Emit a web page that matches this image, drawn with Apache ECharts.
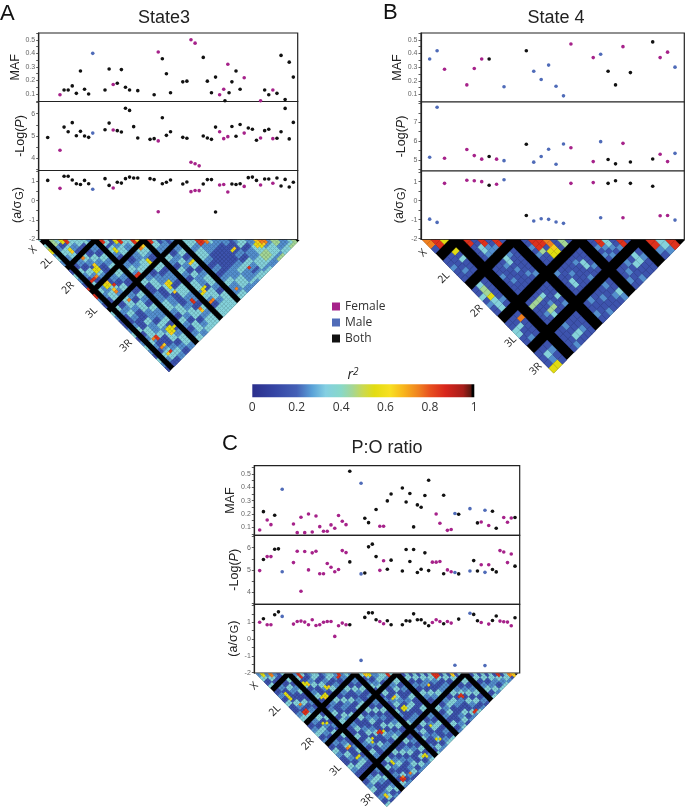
<!DOCTYPE html>
<html><head><meta charset="utf-8">
<style>html,body{margin:0;padding:0;background:#fff}#c{width:685px;height:808px}</style>
<script src="https://cdn.jsdelivr.net/npm/echarts@6/dist/echarts.min.js"></script>
</head><body><div id="c"></div>
<script>
// ---------- Panel A : State3 ----------
const slotsA=[0,3,4,5,6,7,8,9,10,11,14,15,16,17,18,19,20,21,22,25,26,27,28,29,30,33,34,35,36,37,38,39,40,41,42,43,44,45,46,47,48,49,50,51,52,53,54,55,56,57,58,59,60,43.3,44.3];
const sexA=['B','F','B','B','B','B','B','B','B','M','B','B','F','B','B','B','B','B','B','B','B','F','B','B','B','B','B','F','F','F','B','B','B','B','F','F','F','B','B','B','F','B','B','B','F','B','B','F','B','B','B','B','B','B','B'];
const mafA=[null,.095,.13,.13,.16,.105,.27,.135,.10,.40,.13,.285,.17,.18,.28,.15,.13,null,.125,null,.095,.41,.36,.25,.11,.19,.195,.50,.475,null,.37,.195,.11,.225,.095,.135,.32,.19,.27,.135,.22,null,null,null,.05,.13,.095,.13,.105,.385,.06,.335,.225,.05,.11];
const logPA=[4.93,4.36,5.40,5.19,5.60,5.01,5.21,5.00,4.94,5.13,5.28,5.58,5.27,5.24,5.18,6.25,6.15,5.42,4.91,4.85,4.88,4.78,5.82,5.03,5.19,4.94,4.90,3.82,3.75,3.66,5.00,4.91,4.85,5.40,5.19,4.88,4.97,5.43,4.99,5.52,5.13,5.36,5.30,4.81,4.91,5.24,5.30,4.88,4.90,5.19,6.24,4.87,5.61,null,null];
const effectA=[1.05,.64,1.26,1.26,1.07,.88,.84,1.05,.88,.59,1.14,.79,.66,.95,.91,1.14,1.22,1.17,1.17,1.14,1.09,-.57,.88,.95,1.07,.86,.97,.47,.53,.52,.86,1.09,1.09,-.58,.81,.84,.45,.86,.84,.88,.74,1.19,1.22,1.05,.81,1.12,1.12,.90,1.17,.76,1.10,.71,.95,null,null];
const snpCountsA=[1,9,9,6,28];
// r2 bands: [number of SNP rows, one code per partner SNP]
const r2BandsA=[
[2,"3 344223322 113322113 332211 3322 1111 2233 1122 3322 1133 2211"],
[2,"2 233113333 221133221 222333 1122 3322 1111 3333 2211 2233 3311"],
[2,"2 112233221 332211332 113322 3333 2211 1133 2222 3311 1122 3322"],
[2,"1 221133331 113322111 221133 2211 3333 2222 1133 2233 3311 2211"],
[2,"2 331122113 221133223 332211 1133 2211 3322 2233 1111 2233 3322"],
[2,"1 111111111 233133221 223322 3311 1122 2233 3322 1133 2211 2233"],
[2,"1 111111111 331122333 112233 2233 3311 1122 2233 3322 1133 3322"],
[2,"1 111111111 111111322 222333 1122 2233 3311 1111 2233 3311 2233"],
[3,"1 111111111 111111333 333211 3311 2222 1133 3322 2211 3322 3333"],
[2,"1 111111111 111111111 223322 3322 1133 2211 3333 2233 2211 3333"],
[2,"1 111111111 111111111 111122 1122 3322 1133 2222 1133 3322 3333"],
[2,"1 111111111 111111111 111111 2233 1122 3311 2233 3322 1133 3333"],
[3,"1 111111111 111111111 111111 3333 2233 3322 1122 1122 3322 2233"],
[3,"1 111111111 111111111 111111 1111 3322 2211 1111 1122 2233 3322"],
[3,"1 111111111 111111111 111111 1111 1133 2211 1111 1122 3322 2232"],
[3,"1 111111111 111111111 111111 1111 1111 3322 1111 2211 3322 1233"],
[3,"1 111111111 111111111 111111 1111 1111 1111 2233 1122 2233 3323"],
[3,"1 111111111 111111111 111111 1111 1111 1111 1133 2233 3344 4322"],
[3,"1 111111111 111111111 111111 1111 1111 1111 1111 1133 2233 3324"],
[3,"1 111111111 111111111 111111 1111 1111 1111 1111 1111 3344 2233"],
[5,"1 111111111 111111111 111111 1111 1111 1111 1111 1111 1133 3234"]];
const hotA=[[4,15,5],[5,15,5],[4,16,5],[5,16,5],[5,14,6],[2,17,8],[3,17,7],[3,20,5],[4,20,5],[3,19,5],[4,19,6],[4,23,7],[4,22,6],[10,24,8],[11,24,8],[17,19,7],[18,19,6],[11,15,5],[11,16,5],[3,7,5],[3,8,6],[4,10,7],[16,24,5],[16,23,5],[15,32,5],[16,32,5],[15,33,5],[16,31,5],[15,31,6],[20,41,5],[20,42,6],[19,42,5],[21,41,5],[17,41,8],[17,42,8],[17,45,7],[17,46,6],[20,46,7],[19,46,7],[15,35,6],[7,42,5],[7,43,5],[8,42,5],[8,43,5],[8,44,5],[7,44,6],[9,43,5],[3,41,8],[3,42,8],[2,41,7],[2,45,7],[3,45,6],[3,48,8],[2,48,6],[0,18,8],[0,19,8],[0,20,8],[1,17,8],[0,3,5],[0,4,5],[5,21,8],[5,26,7],[34,47,8],[41,43,5],[42,44,5],[42,43,6],[43,44,7],[41,44,6],[43,45,6],[42,45,5],[26,49,7],[34,39,5],[35,39,6],[23,32,6],[24,32,5],[4,5,8],[10,11,8],[14,15,8],[17,18,8],[19,20,8],[28,29,8],[29,30,8],[28,30,8],[30,31,7],[3,4,5],[13,14,5],[44,45,7]];

// ---------- Panel B : State 4 ----------
const slotsB=[0,1,2,5,6,7,8,9,10,13,14,15,16,17,18,19,22,23,24,25,26,27,30,31,32,33];
const sexB=['M','M','F','F','F','F','B','F','M','B','M','M','M','M','M','F','F','M','B','B','F','B','B','F','F','M'];
const mafB=[.36,.42,.285,.17,.29,.36,.36,null,.157,.42,.27,.21,.315,.16,.09,.47,.37,.395,.27,.17,.45,.26,.485,.37,.41,.30];
const logPB=[5.14,7.8,5.09,5.55,5.23,5.04,5.18,5.04,4.96,5.83,4.88,5.18,5.57,4.77,5.85,5.65,4.91,5.97,5.02,4.79,5.88,4.89,5.05,5.3,4.91,5.35];
const effectB=[-.97,-1.14,.91,1.07,1.05,1.0,.81,.86,1.10,-.78,-1.07,-.95,-.98,-1.12,-1.19,.91,.95,-.9,.91,1.05,-.9,.91,.76,-.79,-.78,-1.02];
const snpCountsB=[3,6,7,6,4];
const r2BandsB=[
[1,"111 112111 1111211 112111 1111"],
[1,"111 111121 1121111 111112 1121"],
[1,"111 211111 1111121 111111 1211"],
[1,"111 111111 1121111 121111 1111"],
[1,"111 111212 1111211 111121 1112"],
[1,"111 111122 1211111 111111 2111"],
[1,"111 111112 1112111 111211 1111"],
[1,"111 111111 2111121 111111 1121"],
[1,"111 111111 1111112 111112 1111"],
[1,"111 111111 1121211 211111 1121"],
[1,"111 111111 1112111 111121 2111"],
[1,"111 111111 1111121 112111 1112"],
[1,"111 111111 1111112 111111 1211"],
[1,"111 111111 1111111 121112 1111"],
[1,"111 111111 1111111 111211 2121"],
[1,"111 111111 1111111 111121 1112"],
[1,"111 111111 1111111 112121 1121"],
[1,"111 111111 1111111 111212 1211"],
[1,"111 111111 1111111 111121 2112"],
[1,"111 111111 1111111 111112 1211"],
[1,"111 111111 1111111 111111 2211"],
[1,"111 111111 1111111 111111 1211"],
[1,"111 111111 1111111 111111 1121"],
[1,"111 111111 1111111 111111 1112"],
[1,"111 111111 1111111 111111 1112"]];
const hotB=[[0,1,7],[1,2,8],[2,3,5],[2,5,3],[3,4,8],[5,6,8],[7,8,8],[4,7,3],[4,6,3],[1,9,3],[1,10,4],[1,11,4],[1,12,5],[1,13,3],[1,14,3],[1,15,3],[0,11,3],[6,9,3],[6,10,3],[11,12,8],[10,12,8],[12,13,7],[10,11,8],[11,14,5],[11,15,5],[12,15,5],[12,14,6],[10,13,4],[14,15,4],[3,17,4],[4,17,4],[5,17,4],[6,17,3],[2,17,7],[5,20,4],[5,21,3],[6,20,4],[8,19,3],[0,25,5],[1,25,5],[1,23,3],[0,18,3],[0,19,3],[1,18,3],[14,18,3],[14,19,3],[20,22,3],[20,23,3],[19,23,3],[18,19,3],[23,24,3],[22,23,8],[24,25,8],[17,18,8],[20,21,8],[10,20,3],[10,19,3],[15,24,3],[6,24,3],[5,24,3]];

// ---------- Panel C : P:O ratio ----------
const slotsC=[0,1,2,3,4,5,6,9,10,11,12,13,14,15,16,17,18,19,20,21,22,23,24,27,28,29,30,31,32,33,34,35,38,39,40,41,42,43,44,45,46,47,48,49,50,51,52,53,56,57,58,59,60,61,62,63,64,65,66,67,68];
const sexC=['F','B','F','F','B','B','M','F','F','F','F','F','F','F','F','F','F','F','F','F','F','F','B','M','B','B','B','B','F','F','B','B','B','B','B','B','B','B','B','B','F','F','F','B','F','F','M','B','M','B','B','F','M','F','B','B','F','F','F','F','B'];
const mafC=[.08,.2175,.155,.12,.19,null,.385,.125,.06,.175,.06,.20,.065,.185,.105,.07,.07,.118,.093,.188,.145,.12,.52,.43,.168,.135,null,.233,.108,.108,.298,.35,.395,.29,.353,.103,.268,.25,.338,.453,null,.20,.13,.34,.077,.083,.203,.198,.24,null,.133,.14,.228,.113,.22,.093,null,.173,.138,.17,.173];
const logPC=[4.97,5.47,5.6,5.6,5.93,5.95,4.92,5.33,5.84,4.04,5.83,5.0,5.77,5.84,4.83,4.83,5.29,5.12,4.92,5.02,5.87,5.78,5.36,4.82,4.86,6.04,6.16,5.6,4.98,5.41,5.03,5.44,4.95,5.92,5.38,5.92,4.88,5.03,5.77,4.97,5.35,5.35,5.38,4.83,5.0,4.92,4.88,4.82,4.95,5.42,4.95,5.23,4.89,5.23,5.02,4.91,5.87,5.81,5.33,5.72,5.17];
const effectC=[1.0,1.21,.85,.85,1.45,1.62,1.35,.89,1.05,1.07,1.01,.85,1.15,.81,.85,1.0,1.05,1.05,.16,.79,.95,.85,.85,-1.27,1.29,1.56,1.56,1.15,1.05,.91,1.09,.85,.85,1.09,1.07,1.5,1.15,1.15,.95,.79,.99,1.15,1.05,.91,1.05,.95,-1.56,1.19,1.54,1.47,1.09,.99,-1.58,.89,1.11,1.37,1.07,1.03,1.01,.79,1.27];
const snpCountsC=[7,16,9,16,13];
const r2BandsC=[
[2,"2233113 1122113311112233 112233112 1133221111332211 1122331122113"],
[2,"1122331 2211111133221133 221133221 2211113322113311 2233111122331"],
[2,"3311221 1133221111331122 331122113 1122331111223311 1133221133112"],
[1,"1111333 3311223311112211 113311221 3311112233112211 2211331122331"],
[2,"1111111 2233113311223311 122331133 1111331122113322 1133112211332"],
[2,"1111111 1133112233111133 221111332 2233111133221111 3311221133112"],
[2,"1111111 1111223311332211 331122113 1111223311113322 1122331111221"],
[2,"1111111 1111113311221133 113322111 3311112233111122 3311221122331"],
[2,"1111111 1111111122331122 221133113 1122331111332211 1133112233112"],
[2,"1111111 1111111111332211 331111223 3311221133112233 1122331111332"],
[2,"1111111 1111111111113322 113322111 1133112211331122 3311221133112"],
[2,"1111111 1111111111111133 221133112 2211331111223311 1122113311223"],
[1,"1111111 1111111111111111 331122331 1122111133221133 2211331122113"],
[2,"1111111 1111111111111111 113311223 3311223311111122 1133221111332"],
[2,"1111111 1111111111111111 111122331 1111332211331122 3311112233112"],
[2,"1111111 1111111111111111 111111332 2233111122331111 1122331111223"],
[2,"1111111 1111111111111111 111111113 3311221133111133 2211331122113"],
[2,"1111111 1111111111111111 111111111 1133112211332211 3311221133112"],
[2,"1111111 1111111111111111 111111111 1111331122113322 1122331111223"],
[2,"1111111 1111111111111111 111111111 1111113322111133 2233111122331"],
[2,"1111111 1111111111111111 111111111 1111111133221122 1133221133112"],
[2,"1111111 1111111111111111 111111111 1111111111331122 3311221111332"],
[2,"1111111 1111111111111111 111111111 1111111111113311 2233113322113"],
[2,"1111111 1111111111111111 111111111 1111111111111133 1122331133112"],
[2,"1111111 1111111111111111 111111111 1111111111111111 3311223311221"],
[2,"1111111 1111111111111111 111111111 1111111111111111 1133112233113"],
[2,"1111111 1111111111111111 111111111 1111111111111111 1111331122332"],
[2,"1111111 1111111111111111 111111111 1111111111111111 1111113322113"],
[2,"1111111 1111111111111111 111111111 1111111111111111 1111111133223"],
[2,"1111111 1111111111111111 111111111 1111111111111111 1111111111332"]];
const hotC=[[2,10,5],[2,11,5],[2,12,5],[2,13,5],[7,12,5],[7,13,5],[8,13,5],[8,14,6],[8,9,8],[8,10,8],[9,21,5],[9,22,6],[10,21,5],[10,22,5],[8,21,5],[12,20,5],[13,20,6],[12,19,5],[18,20,8],[19,20,8],[2,20,8],[3,21,8],[3,20,8],[2,21,8],[3,17,7],[4,26,5],[5,27,5],[4,37,7],[5,37,6],[4,42,5],[5,42,5],[25,41,5],[25,42,5],[26,41,5],[26,42,5],[26,36,6],[25,36,5],[36,42,6],[15,41,8],[15,42,8],[14,41,8],[16,42,5],[11,41,5],[10,42,5],[41,51,8],[42,51,8],[42,52,8],[42,59,8],[41,59,8],[8,57,8],[8,58,8],[9,58,8],[9,57,7],[12,58,7],[2,57,5],[2,58,6],[20,57,5],[21,57,5],[21,58,5],[10,51,5],[10,50,5],[28,51,5],[26,56,5],[27,57,5],[40,41,8],[40,42,8],[41,42,8],[55,56,8],[58,59,7],[59,60,6],[25,26,5],[24,25,6],[1,2,5],[3,4,7],[30,31,8],[45,46,6]];

// ---------- Shared labels and scale ----------
const chromLabels=['X','2L','2R','3L','3R'];
const mafTicks=[.1,.2,.3,.4,.5];
const effectTicks=[-2,-1,0,1];
const logPTicksA=[4,5,6], logPTicksB=[5,6,7], logPTicksC=[4,5,6];
const sexNames={F:'Female',M:'Male',B:'Both'};
const sexColours={F:'#a6228a',M:'#4f6bb8',B:'#111111'};
const r2Stops=[[0,'#2b2f8c'],[.1,'#3545a4'],[.2,'#4460b6'],[.27,'#5aa2d8'],[.33,'#84cfe2'],[.4,'#88d8c8'],[.45,'#a4d696'],[.5,'#cbd94e'],[.55,'#e2dc12'],[.62,'#f8e022'],[.68,'#f8b61c'],[.75,'#f08020'],[.8,'#e8501e'],[.87,'#d8261c'],[.95,'#a61e1a'],[.985,'#5a1810'],[.99,'#000000'],[1,'#000000']];

function r2Colour(v){
  for(let k=1;k<r2Stops.length;k++){
    if(v<=r2Stops[k][0]){
      const a=r2Stops[k-1],b=r2Stops[k];
      return echarts.color.lerp((v-a[0])/(b[0]-a[0]),[a[1],b[1]]);
    }
  }
  return '#000';
}

// ---------- Layout ----------
const FONT='"Liberation Sans",Arial,sans-serif';
const panels=[
 {slots:slotsA,sex:sexA,maf:mafA,logP:logPA,effect:effectA,logTicks:logPTicksA,counts:snpCountsA,bands:r2BandsA,hot:hotA,
  left:38.7,width:259,tops:[33,101.5,170.5,239.5],xr:[-2.2,61.07],
  mafR:[.045,.55],logR:[3.45,6.55],effR:[-2,1.56],logAll:[3.5,4,4.5,5,5.5,6,6.5],effAll:[-2,-1.5,-1,-.5,0,.5,1,1.5],
  heat:{left:38.3,top:240,W:261.3,H:132,bars:[6.7,56.7,105,140],bw:8},nameGap:11},
 {slots:slotsB,sex:sexB,maf:mafB,logP:logPB,effect:effectB,logTicks:logPTicksB,counts:snpCountsB,bands:r2BandsB,hot:hotB,
  left:421,width:263.3,tops:[33,102,171,239.5],xr:[-1.166,34.25],
  mafR:[.045,.55],logR:[4.41,8.08],effR:[-2.04,1.56],logAll:[4.5,5,5.5,6,6.5,7,7.5,8],effAll:[-2,-1.5,-1,-.5,0,.5,1,1.5],
  heat:{left:422.3,top:240,W:266.7,H:133.3,bars:[34.3,92.7,159.7,219.3],bw:15},nameGap:13},
 {slots:slotsC,sex:sexC,maf:mafC,logP:logPC,effect:effectC,logTicks:logPTicksC,counts:snpCountsC,bands:r2BandsC,hot:hotC,
  left:254.3,width:265.4,tops:[465.7,535.3,604.3,673],xr:[-1.43,69.25],
  mafR:[.04,.562],logR:[3.45,6.56],effR:[-2.02,2.07],logAll:[3.5,4,4.5,5,5.5,6,6.5],effAll:[-2,-1.5,-1,-.5,0,.5,1,1.5,2],
  heat:{left:255.7,top:673.5,W:262.3,H:133.2,bars:[32.7,99.3,141,209.3],bw:8},nameGap:13}
];

function heatEdges(counts,h){
  const edges=[];
  counts.forEach((n,g)=>{
    const s=g===0?0:h.bars[g-1]+h.bw/2;
    const e=g===counts.length-1?h.W:h.bars[g]-h.bw/2;
    for(let k=0;k<n;k++) edges.push([s+(e-s)*k/n,s+(e-s)*(k+1)/n]);
  });
  return edges;
}
function heatData(p){
  const e=heatEdges(p.counts,p.heat),out=[],hot={},rows=[];
  p.bands.forEach(b=>{const s=b[1].replace(/ /g,'');for(let k=0;k<b[0];k++)rows.push(s);});
  p.hot.forEach(c=>{hot[c[0]+'_'+c[1]]=c[2];});
  const digit=(i,j)=>{
    const h=hot[i+'_'+j];
    if(h!==undefined) return h;
    const r=rows[i]||'',c=r[j];
    return c===undefined?1:+c;
  };
  for(let i=0;i<e.length;i++){
    if(i+1<e.length) out.push([e[i][0],e[i][1],e[i][0],e[i][1],digit(i,i+1)/10+.05]);
    for(let j=i+1;j<e.length;j++) out.push([e[i][0],e[i][1],e[j][0],e[j][1],digit(i,j)/10+.05]);
  }
  return out;
}
function corner(api,p,q){return api.coord([(p+q)/2,Math.max(0,(q-p)/2)]);}
function renderCell(params,api){
  const a0=api.value(0),a1=api.value(1),b0=api.value(2),b1=api.value(3);
  const col=r2Colour(api.value(4));
  return {type:'polygon',shape:{points:[corner(api,a0,b0),corner(api,a1,b0),corner(api,a1,b1),corner(api,a0,b1)]},
    style:{fill:col,stroke:col,lineWidth:.3}};
}

const grids=[],xAxes=[],yAxes=[],series=[],titles=[],graphics=[];
function addGrid(g,x,y){grids.push(g);xAxes.push(x);yAxes.push(y);return grids.length-1;}

panels.forEach(p=>{
  const metrics=[
   {vals:p.maf,range:p.mafR,labels:mafTicks,ticks:[.05,.1,.15,.2,.25,.3,.35,.4,.45,.5,.55],name:'MAF'},
   {vals:p.logP,range:p.logR,labels:p.logTicks,ticks:p.logAll,name:'-Log({i|P})'},
   {vals:p.effect,range:p.effR,labels:effectTicks,ticks:p.effAll,name:'(a/σ{s|G})'}
  ];
  metrics.forEach((m,mi)=>{
    const idx=addGrid(
      {left:p.left,width:p.width,top:p.tops[mi],height:p.tops[mi+1]-p.tops[mi],show:true,borderColor:'#222',borderWidth:1.2,backgroundColor:'#fff'},
      {type:'value',min:p.xr[0],max:p.xr[1],show:false,gridIndex:grids.length},
      {type:'value',min:m.range[0],max:m.range[1],gridIndex:grids.length,splitLine:{show:false},
       axisLine:{show:true,onZero:false,lineStyle:{color:'#222',width:1.2}},
       axisTick:{show:true,length:2.5,customValues:m.ticks,lineStyle:{color:'#333',width:.8}},
       axisLabel:{show:true,customValues:m.labels,fontSize:7,color:'#666',margin:3.5,fontFamily:FONT,
         formatter:v=>mi===0?v.toFixed(1):String(Math.round(v))},
       name:m.name,nameLocation:'middle',nameRotate:90,nameGap:p.nameGap,
       nameTextStyle:{fontSize:12.5,color:'#222',fontFamily:FONT,
         rich:{i:{fontStyle:'italic',fontSize:12.5,color:'#222',fontFamily:FONT},s:{fontSize:11,color:'#222',fontFamily:FONT,padding:[4,0,0,1]}}}}
    );
    ['F','M','B'].forEach(s=>{
      const data=[];
      p.slots.forEach((x,i)=>{if(p.sex[i]===s&&m.vals[i]!==null)data.push([x,m.vals[i]]);});
      series.push({type:'scatter',name:sexNames[s],xAxisIndex:idx,yAxisIndex:idx,data,symbolSize:3.6,
        itemStyle:{color:sexColours[s],opacity:1},silent:true,clip:false,animation:false,z:3});
    });
  });
  const h=p.heat;
  const idx=addGrid({left:h.left,width:h.W,top:h.top,height:h.H,show:false},
    {type:'value',min:0,max:h.W,show:false,gridIndex:grids.length},
    {type:'value',min:0,max:h.W/2,inverse:true,show:false,gridIndex:grids.length});
  series.push({type:'custom',xAxisIndex:idx,yAxisIndex:idx,silent:true,animation:false,clip:false,z:1,
    data:[[h.W]],encode:{x:0},
    renderItem:(params,api)=>({type:'polygon',shape:{points:[api.coord([0,0]),api.coord([h.W,0]),api.coord([h.W/2,h.W/2])]},style:{fill:'#000'}})});
  series.push({type:'custom',xAxisIndex:idx,yAxisIndex:idx,silent:true,animation:false,clip:false,z:2,
    data:heatData(p),encode:{x:[0,1,2,3]},renderItem:renderCell,progressive:0});
});

// colour bar
const cbIdx=addGrid({left:252.3,width:222,top:384.3,height:13,show:false},
  {type:'value',min:0,max:1,interval:.2,gridIndex:grids.length,axisLine:{show:false},axisTick:{show:false},splitLine:{show:false},
   axisLabel:{fontSize:12,color:'#333',margin:4,fontFamily:'"Open Sans",sans-serif',formatter:v=>String(+v.toFixed(1))}},
  {type:'value',min:0,max:1,show:false,gridIndex:grids.length});
series.push({type:'custom',xAxisIndex:cbIdx,yAxisIndex:cbIdx,silent:true,animation:false,data:[[0,0]],
  renderItem:(params,api)=>{
    const a=api.coord([0,1]),b=api.coord([1,0]);
    return {type:'rect',shape:{x:a[0],y:a[1],width:b[0]-a[0],height:b[1]-a[1]},
      style:{fill:new echarts.graphic.LinearGradient(0,0,1,0,r2Stops.map(s=>({offset:s[0],color:s[1]})))}};
  }});

// titles
[['State3',164,9],['State 4',556,9],['P:O ratio',387,439]].forEach(t=>titles.push({text:t[0],left:t[1],top:t[2],padding:0,textAlign:'center',
  textStyle:{fontSize:18,fontWeight:'normal',color:'#222',fontFamily:FONT}}));
[['A',0,3],['B',383,2],['C',222,433]].forEach(t=>titles.push({text:t[0],left:t[1],top:t[2],padding:0,
  textStyle:{fontSize:22,fontWeight:'normal',color:'#111',fontFamily:FONT}}));

// chromosome labels along the lower-left edges
const labelSpots=[[[33,250],[46.7,263],[68,288],[91.7,312.7],[126,345.7]],
 [[423,253],[444,277.7],[476.7,311],[510.7,341.7],[535.7,369]],
 [[254.3,686],[275,710.7],[307.7,744],[335.7,770],[367.3,800]]];
labelSpots.forEach(set=>set.forEach((pos,i)=>graphics.push({type:'text',x:pos[0],y:pos[1],rotation:Math.PI/4,z:10,
  style:{text:chromLabels[i],fontSize:10.5,fill:'#222',fontFamily:'"Open Sans",sans-serif',align:'center',verticalAlign:'middle'}})));
graphics.push({type:'text',x:353,y:375,z:10,style:{
  text:'{i|r}{s|2}',align:'center',verticalAlign:'middle',
  rich:{i:{fontStyle:'italic',fontSize:14,fill:'#222',fontFamily:'"Open Sans",sans-serif'},
        s:{fontStyle:'italic',fontSize:10,fill:'#222',fontFamily:'"Open Sans",sans-serif',padding:[0,0,6,0]}}}});

const chart=echarts.init(document.getElementById('c'),null,{renderer:'canvas',width:685,height:808});
chart.setOption({
  backgroundColor:'#fff',animation:false,
  title:titles,grid:grids,xAxis:xAxes,yAxis:yAxes,series,graphic:graphics,
  legend:{show:true,data:['Female','Male','Both'],icon:'rect',orient:'vertical',left:332,top:300.5,padding:0,
    itemWidth:8,itemHeight:8,itemGap:4,selectedMode:false,
    textStyle:{fontSize:12,color:'#333',fontFamily:'"Open Sans",sans-serif',lineHeight:12}}
});
</script></body></html>
